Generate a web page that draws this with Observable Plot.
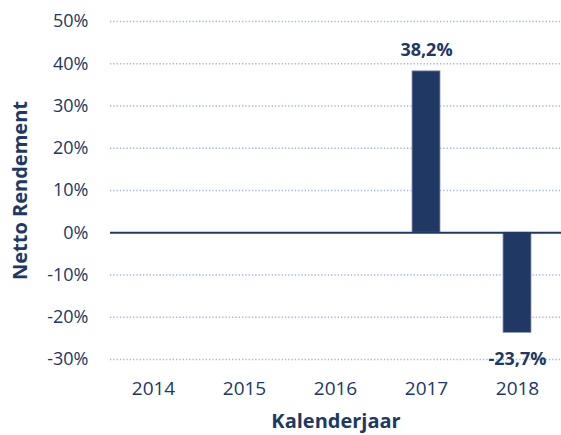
<!DOCTYPE html>
<html>
<head>
<meta charset="utf-8">
<script src="https://cdn.jsdelivr.net/npm/d3@7"></script>
<script src="https://cdn.jsdelivr.net/npm/@observablehq/plot@0.6"></script>
<style>
  html, body { margin: 0; padding: 0; background: #fff; }
  #chart svg { display: block; }
  #chart svg [aria-label="x-axis label"],
  #chart svg [aria-label="y-axis label"] { font-weight: bold; font-size: 20px; }
</style>
</head>
<body>
<div id="chart"></div>
<script>
const years = ["2014", "2015", "2016", "2017", "2018"];
const returns = [null, null, null, 38.2, -23.7];
const yTicks = [-30, -20, -10, 0, 10, 20, 30, 40, 50];

const navy = "#203864";
const data = years.map((y, i) => ({year: y, value: returns[i]})).filter(d => d.value != null);
const pos = data.filter(d => d.value >= 0);
const neg = data.filter(d => d.value < 0);
const fmt = d => d.value.toFixed(1).replace(".", ",") + "%";

const chart = Plot.plot({
  width: 561,
  height: 435,
  marginLeft: 110,
  marginRight: 0,
  marginTop: 21,
  marginBottom: 76,
  style: {fontFamily: "'Open Sans', sans-serif", color: navy, background: "#fff"},
  x: {domain: years, paddingInner: 0.69, paddingOuter: 0.32},
  y: {domain: [-30, 50]},
  marks: [
    Plot.ruleY(yTicks.filter(t => t !== 0), {stroke: "#9fb6e2", strokeWidth: 1.3, strokeDasharray: "1.3,2"}),
    Plot.barY(data, {x: "year", y: "value", fill: navy, stroke: "#8a9ab5", strokeWidth: 0.8}),
    Plot.ruleY([0], {stroke: navy, strokeWidth: 2}),
    Plot.text(pos, {x: "year", y: "value", text: fmt, lineAnchor: "bottom", dy: -15, fill: navy, fontWeight: "bold", fontSize: 18}),
    Plot.text(neg, {x: "year", y: "value", text: fmt, lineAnchor: "top", dy: 19, fill: navy, fontWeight: "bold", fontSize: 18}),
    Plot.axisY({ticks: yTicks, tickFormat: d => `${d}%`, tickSize: 0, tickPadding: 22, fontSize: 18, fill: navy,
      label: "Netto Rendement", labelAnchor: "center", labelOffset: 98, labelArrow: "none"}),
    Plot.axisX({tickSize: 0, tickPadding: 22, fontSize: 19, fill: navy,
      label: "Kalenderjaar", labelAnchor: "center", labelOffset: 68, labelArrow: "none"})
  ]
});
document.getElementById("chart").appendChild(chart);
</script>
</body>
</html>
